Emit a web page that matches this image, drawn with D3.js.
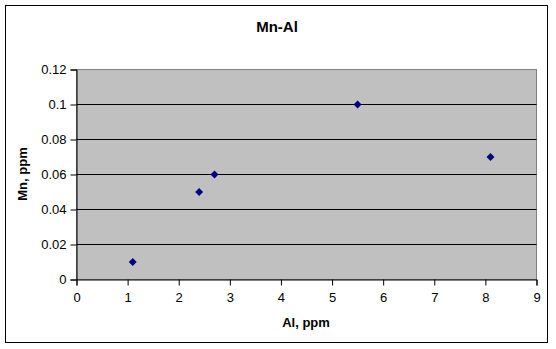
<!DOCTYPE html>
<html><head><meta charset="utf-8">
<script src="https://cdn.jsdelivr.net/npm/d3@7"></script>
<style>body{margin:0;background:#fff}text{font-family:"Liberation Sans",Arial,sans-serif}</style>
</head><body>
<svg id="c" width="556" height="349"></svg>
<script>
const alValues = [1.1, 2.4, 2.7, 5.5, 8.1];
const mnValues = [0.01, 0.05, 0.06, 0.1, 0.07];
const xTicks = [0,1,2,3,4,5,6,7,8,9];
const yTicks = [0,0.02,0.04,0.06,0.08,0.1,0.12];
const title = "Mn-Al", xTitle = "Al, ppm", yTitle = "Mn, ppm";

const svg = d3.select("#c");
const L=76.5, R=536.5, T=69.5, B=279.5;
svg.append("rect").attr("x",5.5).attr("y",5.5).attr("width",542).attr("height",337)
  .attr("fill","#fff").attr("stroke","#000").attr("stroke-width",1);
const x = d3.scaleLinear().domain([0,9]).range([L,R]);
const y = d3.scaleLinear().domain([0,0.12]).range([B,T]);
svg.append("rect").attr("x",L).attr("y",T).attr("width",R-L).attr("height",B-T)
  .attr("fill","#c0c0c0").attr("stroke","#808080");
svg.append("g").selectAll("line").data(yTicks.filter(d=>d>0&&d<0.12)).join("line")
  .attr("x1",L).attr("x2",R).attr("y1",d=>Math.floor(y(d))+0.5).attr("y2",d=>Math.floor(y(d))+0.5)
  .attr("stroke","#000");
const fmt = d=>String(+d.toFixed(2));
const ya = svg.append("g").attr("transform",`translate(${L},0)`)
  .call(d3.axisLeft(y).tickValues(yTicks).tickFormat(fmt).tickSize(6).tickPadding(4));
const xa = svg.append("g").attr("transform",`translate(0,${B})`)
  .call(d3.axisBottom(x).tickValues(xTicks).tickFormat(d3.format("d")).tickSize(6).tickPadding(7));
[ya,xa].forEach(a=>{a.select(".domain").attr("stroke","#000");a.selectAll(".tick line").attr("stroke","#000");
  a.selectAll("text").attr("font-family","Liberation Sans, Arial, sans-serif").attr("font-size",13).attr("fill","#000");});
svg.append("g").selectAll("path").data(alValues.map((a,i)=>[a,mnValues[i]])).join("path")
  .attr("d",d3.symbol().type(d3.symbolDiamond2).size(40))
  .attr("transform",d=>`translate(${x(d[0])},${y(d[1])})`).attr("fill","#000080");
svg.append("text").attr("x",277).attr("y",32).attr("text-anchor","middle")
  .attr("font-weight","bold").attr("font-size",15).text(title);
svg.append("text").attr("x",306).attr("y",327).attr("text-anchor","middle")
  .attr("font-weight","bold").attr("font-size",13).text(xTitle);
svg.append("text").attr("transform","translate(27,174) rotate(-90)").attr("text-anchor","middle")
  .attr("font-weight","bold").attr("font-size",13).text(yTitle);
</script></body></html>
